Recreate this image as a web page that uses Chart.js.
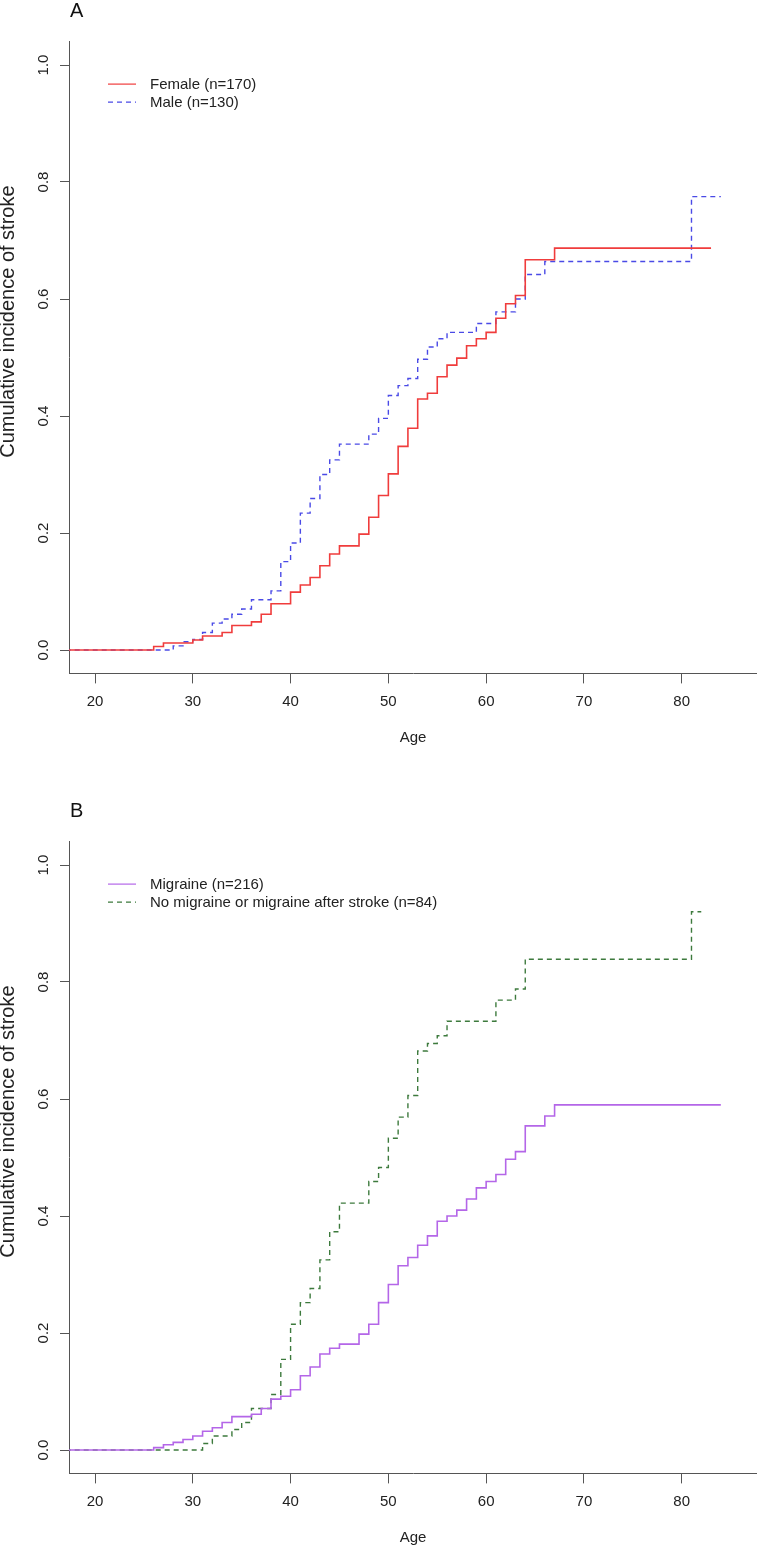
<!DOCTYPE html>
<html>
<head>
<meta charset="utf-8">
<script src="https://cdn.jsdelivr.net/npm/chart.js@4.4.1/dist/chart.umd.min.js"></script>
<style>
body { margin: 0; background: #fff; }
#wrapA { position: absolute; left: 0; top: 0; }
#wrapB { position: absolute; left: 0; top: 800px; }
</style>
</head>
<body>
<div id="wrapA"><canvas id="chartA" width="757" height="747"></canvas></div>
<div id="wrapB"><canvas id="chartB" width="757" height="747"></canvas></div>
<script>
// panel A: sex
const femaleAges = [17, 26, 27, 30, 31, 33, 34, 36, 37, 38, 40, 41, 42, 43, 44, 45, 47, 48, 49, 50, 51, 52, 53, 54, 55, 56, 57, 58, 59, 60, 61, 62, 63, 64, 67, 83];
const femaleInc = [0, 0.006, 0.012, 0.017, 0.024, 0.030, 0.042, 0.048, 0.061, 0.079, 0.099, 0.111, 0.124, 0.144, 0.164, 0.178, 0.198, 0.227, 0.264, 0.301, 0.348, 0.379, 0.429, 0.439, 0.467, 0.487, 0.499, 0.520, 0.532, 0.543, 0.567, 0.592, 0.606, 0.667, 0.687, 0.687];
const maleAges = [17, 28, 29, 30, 31, 32, 33, 34, 35, 36, 38, 39, 40, 41, 42, 43, 44, 45, 48, 49, 50, 51, 52, 53, 54, 55, 56, 59, 61, 63, 64, 66, 81, 84];
const maleInc = [0, 0.007, 0.014, 0.018, 0.030, 0.046, 0.053, 0.061, 0.070, 0.086, 0.101, 0.151, 0.183, 0.234, 0.259, 0.300, 0.325, 0.352, 0.369, 0.396, 0.435, 0.452, 0.464, 0.497, 0.518, 0.532, 0.543, 0.558, 0.578, 0.600, 0.642, 0.664, 0.775, 0.775];

// panel B: migraine
const migraineAges = [17, 26, 27, 28, 29, 30, 31, 32, 33, 34, 36, 37, 38, 39, 40, 41, 42, 43, 44, 45, 47, 48, 49, 50, 51, 52, 53, 54, 55, 56, 57, 58, 59, 60, 61, 62, 63, 64, 66, 67, 84];
const migraineInc = [0, 0.004, 0.009, 0.013, 0.018, 0.024, 0.032, 0.038, 0.047, 0.057, 0.061, 0.071, 0.087, 0.092, 0.103, 0.127, 0.142, 0.164, 0.174, 0.181, 0.198, 0.215, 0.252, 0.283, 0.315, 0.329, 0.350, 0.366, 0.391, 0.400, 0.410, 0.429, 0.448, 0.459, 0.471, 0.497, 0.510, 0.554, 0.571, 0.590, 0.590];
const noMigraineAges = [17, 31, 32, 34, 35, 36, 38, 39, 40, 41, 42, 43, 44, 45, 48, 49, 50, 51, 52, 53, 54, 55, 56, 61, 63, 64, 81, 82];
const noMigraineInc = [0, 0.011, 0.024, 0.035, 0.047, 0.071, 0.095, 0.155, 0.215, 0.252, 0.276, 0.325, 0.373, 0.422, 0.459, 0.483, 0.533, 0.569, 0.606, 0.682, 0.695, 0.708, 0.733, 0.769, 0.788, 0.839, 0.920, 0.920];

const yTicks = [0, 0.2, 0.4, 0.6, 0.8, 1.0];
const xTicks = [20, 30, 40, 50, 60, 70, 80];
const yTitle = 'Cumulative incidence of stroke';

const FONT = '"Liberation Sans", Arial, Helvetica, sans-serif';
Chart.defaults.font.family = FONT;
Chart.defaults.font.size = 15;
Chart.defaults.color = '#222';

function toPoints(ages, inc) {
    return ages.map((a, i) => ({ x: a, y: inc[i] }));
}

const panelExtras = {
    id: 'panelExtras',
    afterDraw(chart, args, opts) {
        const ctx = chart.ctx;
        const area = chart.chartArea;
        ctx.save();
        chart.data.datasets.forEach((ds, i) => {
            const y = area.top + 42.5 + i * 18;
            ctx.strokeStyle = ds.borderColor;
            ctx.lineWidth = 1.2;
            ctx.setLineDash(ds.borderDash || []);
            ctx.beginPath();
            ctx.moveTo(area.left + 39, y);
            ctx.lineTo(area.left + 67, y);
            ctx.stroke();
            ctx.setLineDash([]);
            ctx.fillStyle = '#222';
            ctx.font = '15px ' + FONT;
            ctx.textBaseline = 'middle';
            ctx.fillText(ds.label, area.left + 81, y + 1);
        });
        // panel letter
        ctx.font = '20px ' + FONT;
        ctx.textBaseline = 'alphabetic';
        ctx.fillStyle = '#111';
        ctx.fillText(opts.letter, 70, 16.7);
        // y axis title
        ctx.translate(8.5, area.top + 280);
        ctx.rotate(-Math.PI / 2);
        ctx.font = '20px ' + FONT;
        ctx.textAlign = 'center';
        ctx.textBaseline = 'middle';
        ctx.fillStyle = '#222';
        ctx.fillText(yTitle, 0, 0);
        ctx.restore();
    }
};

function makeOptions(letter) {
    return {
        responsive: false,
        animation: false,
        layout: { padding: { top: 41.6, left: 0, right: 0, bottom: 0 } },
        plugins: {
            legend: { display: false },
            tooltip: { enabled: false },
            panelExtras: { letter: letter }
        },
        elements: { point: { radius: 0 } },
        scales: {
            x: {
                type: 'linear',
                min: 17.34,
                max: 87.7,
                afterFit: function (scale) { scale.height = 73.6; },
                afterBuildTicks: function (scale) { scale.ticks = xTicks.map(v => ({ value: v })); },
                border: { display: true, color: '#555', width: 1 },
                grid: { display: true, drawOnChartArea: false, drawTicks: true, tickLength: 10, color: '#555' },
                ticks: { maxRotation: 0, padding: 9, color: '#222', autoSkip: false },
                title: { display: true, text: 'Age', color: '#222', padding: { top: 0, bottom: 0 } }
            },
            y: {
                type: 'linear',
                min: -0.04,
                max: 1.04,
                afterFit: function (scale) { scale.width = 69; },
                afterBuildTicks: function (scale) { scale.ticks = yTicks.map(v => ({ value: v })); },
                border: { display: true, color: '#555', width: 1 },
                grid: { display: true, drawOnChartArea: false, drawTicks: true, tickLength: 9, color: '#555' },
                ticks: {
                    minRotation: 90, maxRotation: 90, crossAlign: 'center', padding: 6, color: '#222', autoSkip: false,
                    callback: function (v) { return Number(v).toFixed(1); }
                },
                title: { display: false }
            }
        }
    };
}

const ctxA = document.getElementById('chartA').getContext('2d');
const ctxB = document.getElementById('chartB').getContext('2d');

const chartA = new Chart(ctxA, {
    type: 'line',
    data: {
        datasets: [{
            label: 'Female (n=170)',
            data: toPoints(femaleAges, femaleInc),
            borderColor: '#f03c3c',
            borderWidth: 1.6,
            stepped: 'before',
            fill: false
        }, {
            label: 'Male (n=130)',
            data: toPoints(maleAges, maleInc),
            borderColor: '#4a4ae6',
            borderWidth: 1.4,
            borderDash: [5, 4],
            stepped: 'before',
            fill: false
        }]
    },
    options: makeOptions('A'),
    plugins: [panelExtras]
});

const chartB = new Chart(ctxB, {
    type: 'line',
    data: {
        datasets: [{
            label: 'Migraine (n=216)',
            data: toPoints(migraineAges, migraineInc),
            borderColor: '#b466e8',
            borderWidth: 1.6,
            stepped: 'before',
            fill: false
        }, {
            label: 'No migraine or migraine after stroke (n=84)',
            data: toPoints(noMigraineAges, noMigraineInc),
            borderColor: '#3d7a3d',
            borderWidth: 1.4,
            borderDash: [5, 4],
            stepped: 'before',
            fill: false
        }]
    },
    options: makeOptions('B'),
    plugins: [panelExtras]
});
</script>
</body>
</html>
